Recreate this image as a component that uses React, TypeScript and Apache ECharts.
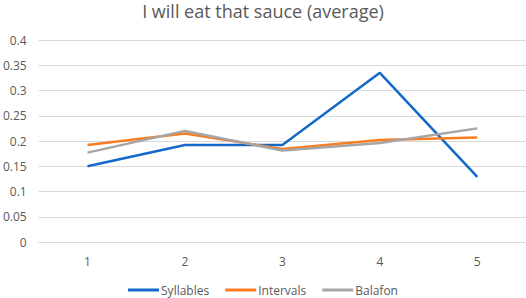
import React, { useEffect, useRef } from "react";
import * as echarts from "echarts";

const categories = ["1", "2", "3", "4", "5"];
const syllables = [0.15, 0.192, 0.192, 0.335, 0.129];
const intervals = [0.192, 0.215, 0.184, 0.202, 0.207];
const balafon = [0.177, 0.22, 0.181, 0.196, 0.225];
const seriesNames = ["Syllables", "Intervals", "Balafon"];
const colors = ["#1469C8", "#F97C20", "#A5A5A5"];

export default function App() {
  const ref = useRef<HTMLDivElement>(null);
  useEffect(() => {
    if (!ref.current) return;
    const chart = echarts.init(ref.current, undefined, { renderer: "svg" });
    const font = "Open Sans, Liberation Sans, sans-serif";
    const data = [syllables, intervals, balafon];
    chart.setOption({
      animation: false,
      backgroundColor: "#ffffff",
      title: {
        text: "I will eat that sauce (average)",
        left: "center",
        top: -3,
        textStyle: { fontFamily: font, fontSize: 18, fontWeight: "normal", color: "#595959" },
      },
      legend: {
        bottom: -3,
        left: "center",
        itemWidth: 31,
        itemHeight: 3,
        itemGap: 16,
        icon: "rect",
        textStyle: { fontFamily: font, fontSize: 12, color: "#595959", padding: [0, 0, 0, -3] },
        data: seriesNames,
      },
      grid: { left: 36, right: 0, top: 40, bottom: 56 },
      xAxis: {
        type: "category",
        data: categories,
        boundaryGap: true,
        axisLine: { show: true, lineStyle: { color: "#D9D9D9", width: 1 } },
        axisTick: { show: false },
        axisLabel: { fontFamily: font, fontSize: 12, color: "#595959", margin: 13 },
      },
      yAxis: {
        type: "value",
        min: 0,
        max: 0.4,
        interval: 0.05,
        axisLine: { show: false },
        axisTick: { show: false },
        splitLine: { lineStyle: { color: "#D9D9D9", width: 1 } },
        axisLabel: { fontFamily: font, fontSize: 12, color: "#595959", margin: 12 },
      },
      series: seriesNames.map((name, i) => ({
        name,
        type: "line",
        data: data[i],
        symbol: "none",
        lineStyle: { color: colors[i], width: 2.5 },
        itemStyle: { color: colors[i] },
      })),
    });
    return () => chart.dispose();
  }, []);
  return (
    <div
      ref={ref}
      style={{ position: "fixed", left: 0, top: 0, width: 526, height: 298 }}
    />
  );
}
